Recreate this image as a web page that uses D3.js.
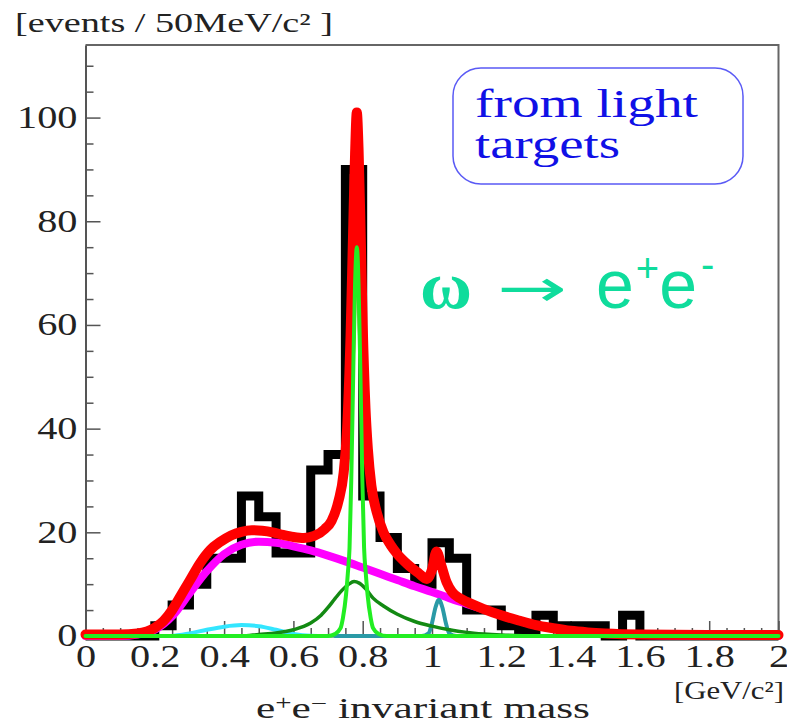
<!DOCTYPE html>
<html>
<head>
<meta http-equiv="Content-Type" content="text/html;charset=utf-8"/>
<title>omega to e+e- from light targets</title>
<script src="https://d3js.org/d3.v7.min.js"></script>
<style type="text/css">
	body { margin: 0; background: #fff; }
	svg { display: block; }
	.axis path, .axis line { stroke: #555; }
	.axis path { stroke-width: 2; }
	.axis line { stroke-width: 1.5; }
	.axis text { font-family: "Liberation Serif", "Times New Roman", serif; fill: #222; }
	.fit { fill: none; stroke-linejoin: round; stroke-linecap: round; }
	.serif { font-family: "Liberation Serif", "Times New Roman", serif; }
</style>
</head>
<body>
<script type="text/javascript">

	//Histogram: lower edge of each 50 MeV/c2 bin and the events in it
	var binLow = [0, 0.05, 0.1, 0.15, 0.2, 0.25, 0.3, 0.35, 0.4, 0.45,
	              0.5, 0.55, 0.6, 0.65, 0.7, 0.75, 0.8, 0.85, 0.9, 0.95,
	              1.0, 1.05, 1.1, 1.15, 1.2, 1.25, 1.3, 1.35, 1.4, 1.45,
	              1.5, 1.55, 1.6, 1.65, 1.7, 1.75, 1.8, 1.85, 1.9, 1.95];
	var counts = [0, 0, 0, 0, 2, 6, 10, 15, 15, 27,
	              23, 16, 16, 32, 35, 90, 27, 19, 13, 10,
	              18, 15, 5, 5, 2, 1, 4, 2, 2, 2,
	              0, 4, 0, 0, 0, 0, 0, 0, 0, 0];
	var binWidth = 0.05;

	//Fit curves, [mass, events]
	var totalFit = [[0, 0.3], [0.1, 0.3], [0.15, 0.5], [0.2, 1.6], [0.225, 2.9], [0.25, 5], [0.275, 7.8],
	                [0.3, 10.6], [0.33, 14], [0.36, 16.6], [0.39, 18.2], [0.42, 19.4], [0.45, 20.1],
	                [0.48, 20.4], [0.51, 20.3], [0.54, 20], [0.57, 19.5], [0.6, 19.1], [0.63, 18.9],
	                [0.66, 19.3], [0.69, 20.6], [0.71, 22.2], [0.73, 26], [0.745, 31.5], [0.755, 40],
	                [0.765, 58], [0.772, 77], [0.778, 93], [0.783, 101], [0.788, 94], [0.794, 78],
	                [0.8, 60], [0.808, 44], [0.815, 36], [0.825, 29], [0.84, 24], [0.86, 20], [0.88, 17.6],
	                [0.9, 15.8], [0.93, 13.8], [0.96, 12.2], [0.985, 11], [1.0, 12.8], [1.013, 16.3],
	                [1.027, 13.6], [1.042, 10.4], [1.058, 8.5], [1.08, 7.3], [1.1, 6.6], [1.15, 5.2],
	                [1.2, 4], [1.25, 3], [1.3, 2.1], [1.35, 1.5], [1.4, 1], [1.45, 0.7], [1.5, 0.5],
	                [1.6, 0.3], [1.8, 0.2], [2, 0.2]];
	var backgroundFit = [[0, 0], [0.1, 0], [0.15, 0.3], [0.2, 1.2], [0.25, 3.8], [0.3, 8.2], [0.35, 12.5],
	                     [0.4, 15.8], [0.45, 17.6], [0.5, 18.2], [0.55, 18], [0.6, 17.3], [0.65, 16.5],
	                     [0.7, 15.5], [0.75, 14.4], [0.8, 13.2], [0.85, 12], [0.9, 10.8], [0.95, 9.6],
	                     [1.0, 8.5], [1.05, 7.3], [1.1, 6.2], [1.15, 5.1], [1.2, 4], [1.25, 3], [1.3, 2.1],
	                     [1.35, 1.4], [1.4, 0.9], [1.5, 0.4], [1.6, 0.2], [1.8, 0.05], [2, 0]];
	var etaFit = [[0.25, 0], [0.3, 0.5], [0.35, 1.2], [0.4, 1.8], [0.45, 2.1], [0.5, 1.9],
	              [0.55, 1.2], [0.6, 0.4], [0.65, 0.05], [0.7, 0]];
	var rhoFit = [[0, 0], [0.45, 0], [0.5, 0.3], [0.55, 0.6], [0.6, 1.2], [0.65, 2.5], [0.68, 4],
	              [0.7, 5.5], [0.72, 7.2], [0.74, 8.8], [0.76, 10], [0.775, 10.5], [0.79, 10.2],
	              [0.81, 9], [0.83, 7.3], [0.86, 5.8], [0.9, 4.2], [0.95, 2.8], [1.0, 1.9], [1.05, 1.2],
	              [1.1, 0.7], [1.15, 0.4], [1.2, 0.2], [1.3, 0], [2, 0]];
	var omegaFit = [[0, 0], [0.7, 0], [0.72, 0.4], [0.736, 1.5], [0.743, 3.5], [0.752, 8], [0.757, 12],
	                [0.762, 17], [0.767, 30], [0.773, 52], [0.778, 68], [0.783, 75], [0.788, 68],
	                [0.793, 52], [0.799, 30], [0.804, 17], [0.809, 12], [0.814, 8], [0.823, 3.5],
	                [0.83, 1.5], [0.846, 0.4], [0.87, 0], [2, 0]];
	var phiFit = [[0.72, 0], [0.97, 0], [0.99, 0.5], [1.0, 2.5], [1.01, 5.5], [1.02, 7],
	              [1.03, 5.5], [1.04, 2.5], [1.05, 0.5], [1.07, 0], [1.1, 0]];

	//Axis ticks
	var xMajor = [0, 0.2, 0.4, 0.6, 0.8, 1, 1.2, 1.4, 1.6, 1.8, 2];
	var xMinor = [0.05, 0.1, 0.15, 0.25, 0.3, 0.35, 0.45, 0.5, 0.55, 0.65, 0.7, 0.75,
	              0.85, 0.9, 0.95, 1.05, 1.1, 1.15, 1.25, 1.3, 1.35, 1.45, 1.5, 1.55,
	              1.65, 1.7, 1.75, 1.85, 1.9, 1.95];
	var xLabels = ["0", "0.2", "0.4", "0.6", "0.8", "1", "1.2", "1.4", "1.6", "1.8", "2"];
	var yMajor = [0, 20, 40, 60, 80, 100];
	var yMinor = [5, 10, 15, 25, 30, 35, 45, 50, 55, 65, 70, 75, 85, 90, 95, 105, 110];


	var w = 787,
		h = 728;

	var x = d3.scaleLinear().domain([0, 2]).range([85.5, 778.5]);
	var y = d3.scaleLinear().domain([0, 114]).range([636, 45]);

	var svg = d3.select("body").append("svg")
				.attr("width", w)
				.attr("height", h);

	//Stretch text sideways, the original picture is wider than Times
	function stretch(sel, k) {
		sel.each(function() {
			var len = this.getComputedTextLength();
			d3.select(this).attr("textLength", len * k).attr("lengthAdjust", "spacingAndGlyphs");
		});
	}

	function label(str, px, py, size, width, color, cls) {
		var t = svg.append("text")
			.attr("class", cls || "serif")
			.attr("x", px)
			.attr("y", py)
			.attr("font-size", size)
			.attr("fill", color || "#222")
			.text(str);
		if (width) t.attr("textLength", width).attr("lengthAdjust", "spacingAndGlyphs");
		return t;
	}

	//Frame
	svg.append("path")
		.attr("d", "M" + x(0) + "," + y(114) + "H" + x(2) + "V" + y(0))
		.attr("fill", "none")
		.attr("stroke", "#666")
		.attr("stroke-width", 2);

	//Axes, ticks point inside
	var gx = svg.append("g").attr("class", "axis")
		.attr("transform", "translate(0," + y(0) + ")")
		.call(d3.axisBottom(x).tickValues(xMajor).tickSize(-15).tickSizeOuter(0).tickPadding(9)
			.tickFormat(function(d, i) { return xLabels[i]; }));
	svg.append("g").attr("class", "axis")
		.attr("transform", "translate(0," + y(0) + ")")
		.call(d3.axisBottom(x).tickValues(xMinor).tickSize(-8).tickSizeOuter(0).tickFormat(""))
		.select(".domain").remove();

	var gy = svg.append("g").attr("class", "axis")
		.attr("transform", "translate(" + x(0) + ",0)")
		.call(d3.axisLeft(y).tickValues(yMajor).tickSize(-15).tickSizeOuter(0).tickPadding(8)
			.tickFormat(d3.format("d")));
	svg.append("g").attr("class", "axis")
		.attr("transform", "translate(" + x(0) + ",0)")
		.call(d3.axisLeft(y).tickValues(yMinor).tickSize(-8).tickSizeOuter(0).tickFormat(""))
		.select(".domain").remove();

	gx.selectAll("text").attr("font-size", 31).call(stretch, 1.3);
	gy.selectAll("text").attr("font-size", 31).call(stretch, 1.3);

	//Histogram as a step line
	var steps = binLow.map(function(d, i) { return [d, counts[i]]; });
	steps.push([binLow[binLow.length - 1] + binWidth, counts[counts.length - 1]]);

	svg.append("path")
		.datum(steps)
		.attr("fill", "none")
		.attr("stroke", "#000")
		.attr("stroke-width", 9)
		.attr("stroke-linejoin", "miter")
		.attr("d", d3.line()
			.x(function(d) { return x(d[0]); })
			.y(function(d) { return y(d[1]); })
			.curve(d3.curveStepAfter));

	//Fit components
	var fitLine = d3.line()
		.x(function(d) { return x(d[0]); })
		.y(function(d) { return y(d[1]); })
		.curve(d3.curveMonotoneX);

	var fits = [
		{ data: backgroundFit, color: "#ff00ff", width: 8 },
		{ data: etaFit, color: "#33e6ff", width: 4 },
		{ data: phiFit, color: "#2a9aa6", width: 4 },
		{ data: rhoFit, color: "#138a13", width: 3.5 },
		{ data: totalFit, color: "#ff0000", width: 10 },
		{ data: omegaFit, color: "#22ee22", width: 4 }
	];

	svg.selectAll("path.fit")
		.data(fits)
		.enter()
		.append("path")
		.attr("class", "fit")
		.attr("stroke", function(d) { return d.color; })
		.attr("stroke-width", function(d) { return d.width; })
		.attr("d", function(d) { return fitLine(d.data); });

	//Axis titles
	label("[events / 50MeV/c\u00b2 ]", 15, 32, 27, 318);
	label("[GeV/c\u00b2]", 674, 699, 25, 110);

	var xt = svg.append("text")
		.attr("class", "serif")
		.attr("x", 256)
		.attr("y", 718)
		.attr("font-size", 30)
		.attr("fill", "#222")
		.attr("textLength", 334)
		.attr("lengthAdjust", "spacingAndGlyphs");
	xt.append("tspan").text("e");
	xt.append("tspan").attr("font-size", 20).attr("dy", -8).text("+");
	xt.append("tspan").attr("dy", 8).text("e");
	xt.append("tspan").attr("font-size", 20).attr("dy", -8).text("\u2212");
	xt.append("tspan").attr("dy", 8).text("  invariant mass");

	//Box label
	svg.append("rect")
		.attr("x", 453).attr("y", 68)
		.attr("width", 290).attr("height", 116)
		.attr("rx", 28).attr("ry", 28)
		.attr("fill", "none")
		.attr("stroke", "#5a5af5")
		.attr("stroke-width", 1.5);
	label("from light", 475, 117, 40, 223, "#1010e6");
	label("targets", 475, 158, 40, 145, "#1010e6");

	//Decay channel
	var teal = "#0fdc9c";
	svg.append("text").attr("class", "serif").attr("x", 420).attr("y", 308)
		.attr("font-size", 68).attr("font-weight", "bold").attr("fill", teal)
		.attr("textLength", 52).attr("lengthAdjust", "spacingAndGlyphs")
		.text("\u03c9");
	svg.append("text").attr("x", 497).attr("y", 306)
		.attr("font-family", "DejaVu Sans, sans-serif")
		.attr("font-size", 52).attr("fill", teal)
		.attr("textLength", 70).attr("lengthAdjust", "spacingAndGlyphs")
		.text("\u2192");
	var ee = svg.append("text").attr("x", 596).attr("y", 308)
		.attr("font-family", "Liberation Sans, Arial, sans-serif")
		.attr("font-size", 68).attr("fill", teal);
	ee.append("tspan").text("e");
	ee.append("tspan").attr("font-size", 40).attr("dy", -26).attr("dx", 2).text("+");
	ee.append("tspan").attr("dy", 26).text("e");
	ee.append("tspan").attr("font-size", 40).attr("dy", -30).attr("dx", 4).text("-");

</script>
</body>
</html>
